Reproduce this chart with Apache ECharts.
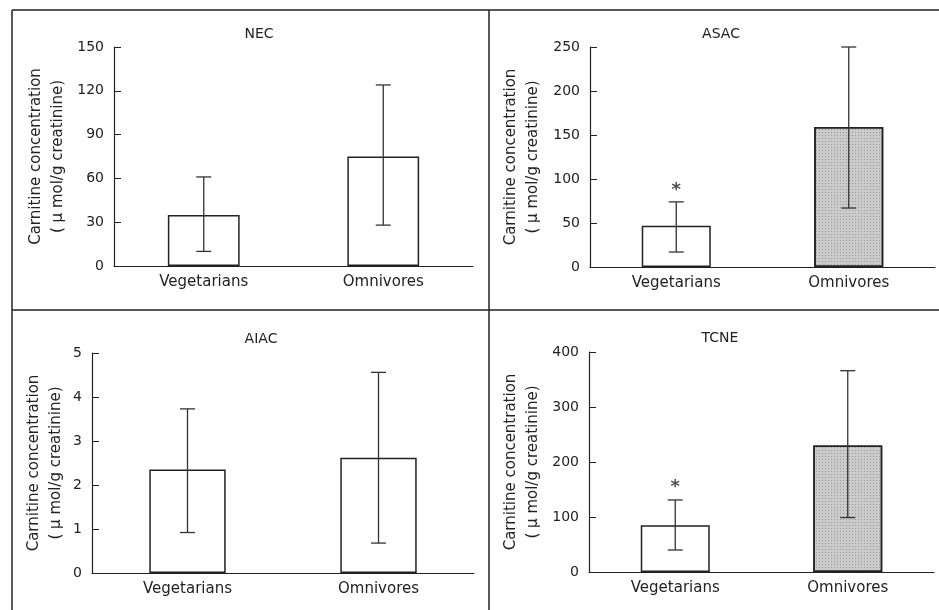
<!DOCTYPE html>
<html>
<head>
<meta charset="utf-8">
<script src="https://cdn.jsdelivr.net/npm/echarts@6/dist/echarts.min.js"></script>
<style>
  html, body { margin: 0; padding: 0; background: #fff; }
  #chart { width: 939px; height: 610px; }
</style>
</head>
<body>
<div id="chart"></div>
<script>
// groups on the x axis
const categories = ['Vegetarians', 'Omnivores'];

// NEC
const necMean = [35, 75];
const necLow = [10, 28];
const necHigh = [61, 124];
// ASAC
const asacMean = [47, 159];
const asacLow = [17, 67];
const asacHigh = [74, 250];
const asacSig = [92, null];
// AIAC
const aiacMean = [2.35, 2.62];
const aiacLow = [0.92, 0.68];
const aiacHigh = [3.73, 4.56];
// TCNE
const tcneMean = [85, 230];
const tcneLow = [40, 99];
const tcneHigh = [131, 366];
const tcneSig = [161, null];

const panels = [
    { title: 'NEC', mean: necMean, low: necLow, high: necHigh, sig: null, max: 150, interval: 30, shaded: false,
      grid: { left: 114, right: 466, top: 47, bottom: 344 }, titleX: 254, titleY: 22, nameGap: 45 },
    { title: 'ASAC', mean: asacMean, low: asacLow, high: asacHigh, sig: asacSig, max: 250, interval: 50, shaded: true,
      grid: { left: 590, right: 4, top: 47, bottom: 343 }, titleX: 716, titleY: 22, nameGap: 46 },
    { title: 'AIAC', mean: aiacMean, low: aiacLow, high: aiacHigh, sig: null, max: 5, interval: 1, shaded: false,
      grid: { left: 92, right: 465, top: 353, bottom: 37 }, titleX: 256, titleY: 327, nameGap: 25 },
    { title: 'TCNE', mean: tcneMean, low: tcneLow, high: tcneHigh, sig: tcneSig, max: 400, interval: 100, shaded: true,
      grid: { left: 589, right: 5, top: 352, bottom: 38 }, titleX: 715, titleY: 326, nameGap: 45 }
];

const ink = '#222';
const font = 'DejaVu Sans';
const yName = 'Carnitine concentration\n( \u03bc mol/g creatinine)';

const chart = echarts.init(document.getElementById('chart'));

const grids = [], xAxes = [], yAxes = [], titles = [], series = [];

panels.forEach((p, i) => {
    grids.push(p.grid);
    titles.push({
        text: p.title,
        left: p.titleX,
        top: p.titleY,
        textAlign: 'center',
        textStyle: { fontFamily: font, fontSize: 14, fontWeight: 'normal', color: ink }
    });
    xAxes.push({
        type: 'category',
        gridIndex: i,
        data: categories,
        boundaryGap: true,
        axisLine: { lineStyle: { color: ink, width: 1.2 } },
        axisTick: { inside: true, length: 7, alignWithLabel: false, lineStyle: { color: ink } },
        axisLabel: { color: ink, fontFamily: font, fontSize: 15, margin: 9 }
    });
    yAxes.push({
        type: 'value',
        gridIndex: i,
        min: 0,
        max: p.max,
        interval: p.interval,
        name: yName,
        nameLocation: 'middle',
        nameGap: p.nameGap,
        nameRotate: 90,
        nameTextStyle: { color: ink, fontFamily: font, fontSize: 15, lineHeight: 22 },
        axisLine: { show: true, lineStyle: { color: ink, width: 1.2 } },
        axisTick: { show: true, inside: true, length: 7, lineStyle: { color: ink } },
        axisLabel: { color: ink, fontFamily: font, fontSize: 14, margin: 10 },
        splitLine: { show: false }
    });

    series.push({
        type: 'bar',
        xAxisIndex: i,
        yAxisIndex: i,
        barWidth: '40%',
        data: p.mean.map((v, k) => ({
            value: v,
            itemStyle: (p.shaded && k === 1) ? {
                color: '#cbcbcb',
                borderColor: ink,
                borderWidth: 1.5,
                decal: {
                    symbol: 'rect',
                    symbolSize: 1,
                    color: 'rgba(110,110,110,0.5)',
                    dashArrayX: [1, 2],
                    dashArrayY: [1, 2],
                    rotation: 0
                }
            } : {
                color: '#fff',
                borderColor: ink,
                borderWidth: 1.5
            }
        })),
        silent: true
    });

    series.push({
        type: 'custom',
        xAxisIndex: i,
        yAxisIndex: i,
        data: p.mean.map((_, k) => [k, p.low[k], p.high[k]]),
        encode: { x: 0, y: [1, 2] },
        z: 5,
        renderItem: (params, api) => {
            const lo = api.coord([api.value(0), api.value(1)]);
            const hi = api.coord([api.value(0), api.value(2)]);
            const hw = 7.5;
            const st = { stroke: '#333', lineWidth: 1.3 };
            return {
                type: 'group',
                children: [
                    { type: 'line', shape: { x1: lo[0], y1: lo[1], x2: hi[0], y2: hi[1] }, style: st },
                    { type: 'line', shape: { x1: lo[0] - hw, y1: lo[1], x2: lo[0] + hw, y2: lo[1] }, style: st },
                    { type: 'line', shape: { x1: hi[0] - hw, y1: hi[1], x2: hi[0] + hw, y2: hi[1] }, style: st }
                ]
            };
        }
    });

    if (p.sig) {
        series.push({
            type: 'scatter',
            xAxisIndex: i,
            yAxisIndex: i,
            symbolSize: 0,
            data: p.sig.map((v, k) => (v == null ? null : [k, v])).filter(d => d),
            label: {
                show: true,
                position: 'inside',
                formatter: '*',
                color: ink,
                fontFamily: font,
                fontSize: 18,
                fontWeight: 'bold',
                offset: [0, 4]
            },
            silent: true
        });
    }
});

// panel frame
const frame = { stroke: ink, lineWidth: 1.5 };
const graphic = [
    { type: 'line', shape: { x1: 12, y1: 10, x2: 939, y2: 10 }, style: frame },
    { type: 'line', shape: { x1: 12, y1: 10, x2: 12, y2: 610 }, style: frame },
    { type: 'line', shape: { x1: 489, y1: 10, x2: 489, y2: 610 }, style: frame },
    { type: 'line', shape: { x1: 12, y1: 310, x2: 939, y2: 310 }, style: frame }
];

chart.setOption({
    animation: false,
    backgroundColor: '#fff',
    title: titles,
    grid: grids,
    xAxis: xAxes,
    yAxis: yAxes,
    series: series,
    graphic: graphic
});
</script>
</body>
</html>
